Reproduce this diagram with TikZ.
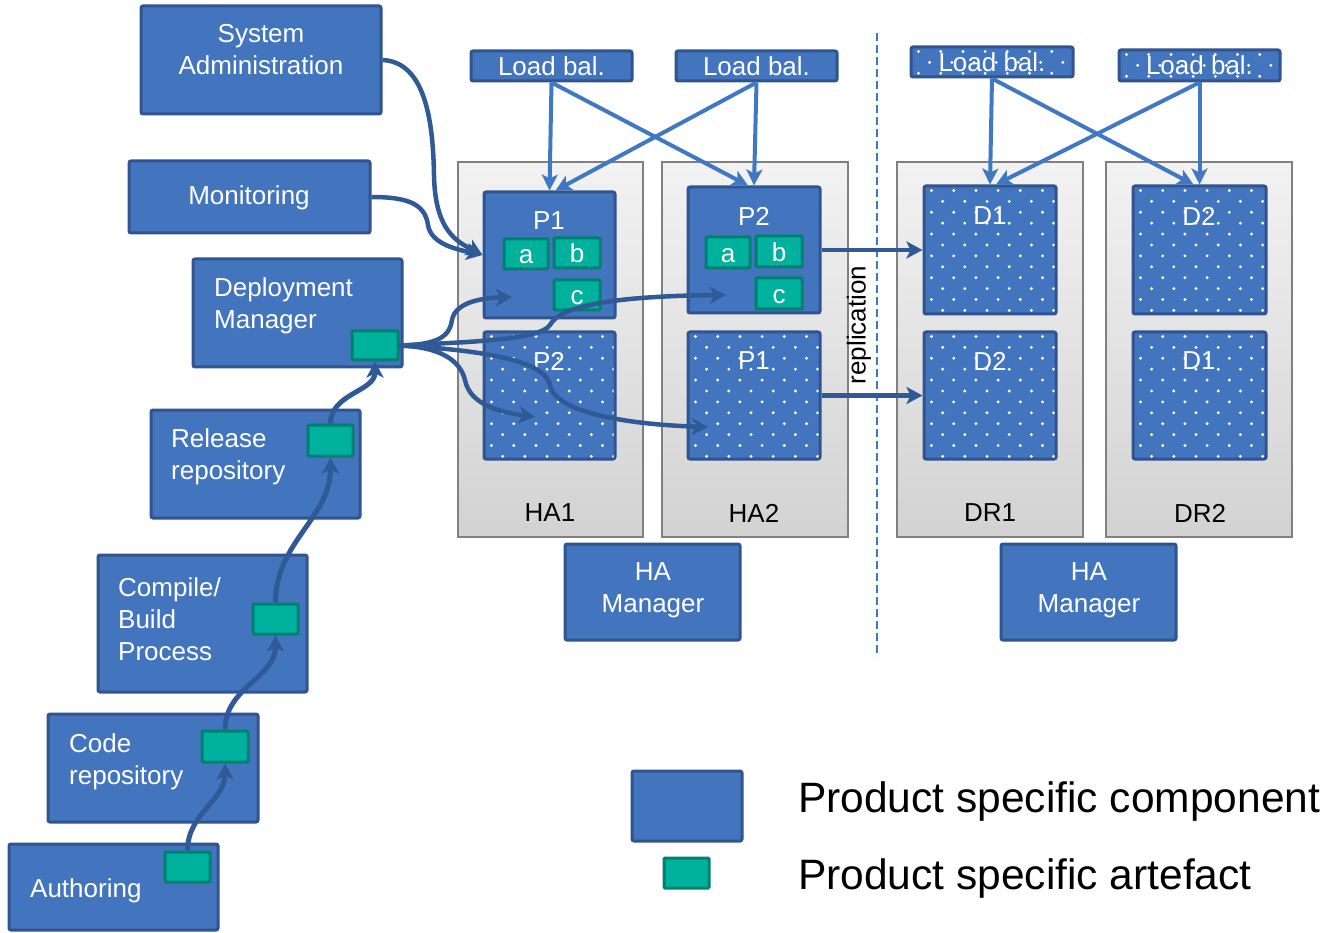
\documentclass[tikz,border=0pt]{standalone}
\usepackage{fontspec}
\setmainfont{Liberation Sans}
\usetikzlibrary{arrows.meta,calc}
\definecolor{cblue}{RGB}{66,117,190}
\definecolor{cbord}{RGB}{47,84,143}
\definecolor{cteal}{RGB}{0,178,158}
\definecolor{ctbord}{RGB}{0,128,112}
\definecolor{carrow}{RGB}{47,90,150}
\definecolor{clb}{RGB}{65,120,195}
\definecolor{chost}{RGB}{128,128,128}
\newcommand\fsz{\fontsize{26}{32}\selectfont}
\newcommand\lgsz{\fontsize{42.5}{50}\selectfont}
\newcommand\mydots[1]{%
  \begin{scope}
    \clip ([shift={(3,3)}]#1.north west) rectangle ([shift={(-3,-3)}]#1.south east);
    \foreach \j in {0,...,12}{\foreach \i in {0,...,6}{
      \pgfmathsetmacro\dx{9+22.2*\i+11.1*mod(\j,2)}
      \pgfmathsetmacro\dy{6+10.9*\j}
      \fill[white] ([shift={(\dx,\dy)}]#1.north west) circle (1.6pt);
    }}
  \end{scope}}
\begin{document}
\begin{tikzpicture}[x=1pt,y=-1pt,
  comp/.style={draw=cbord, fill=cblue, line width=3pt, rounded corners=2pt, inner sep=0pt, text=white, font=\fsz},
  art/.style={draw=ctbord, fill=cteal, line width=3pt, rounded corners=1pt, inner sep=0pt, text=white, font=\fsz, text height=20pt, text depth=0pt},
  host/.style={draw=chost, line width=2pt, top color=gray!10, bottom color=gray!35, inner sep=0pt},
  wt/.style={text=white, font=\fsz, inner sep=0pt, align=center},
  bt/.style={text=black, font=\fsz, inner sep=0pt},
  darr/.style={draw=carrow, line width=4.5pt, -{Stealth[length=16pt,width=17pt,inset=4pt]}},
  lbarr/.style={draw=clb, line width=4pt, -{Stealth[length=16pt,width=16pt,inset=4pt]}},
  chain/.style={draw=carrow, line width=5pt, -{Stealth[length=16pt,width=17pt,inset=4pt]}}
]
\useasboundingbox (0,0) rectangle (1326,933);

% hosts
\node[host, minimum width=185pt, minimum height=375pt] (ha1) at (550.5,349.5) {};
\node[host, minimum width=186pt, minimum height=375pt] (ha2) at (755,349.5) {};
\node[host, minimum width=186pt, minimum height=375pt] (dr1) at (990,349.5) {};
\node[host, minimum width=186pt, minimum height=375pt] (dr2) at (1199,349.5) {};
\node[bt] (ha1t) at (550,513) {HA1};
\node[bt] (ha2t) at (754,513) {HA2};
\node[bt] (dr1t) at (990,513) {DR1};
\node[bt] (dr2t) at (1200,513) {DR2};

% load balancers
\node[comp, minimum width=161pt, minimum height=30pt] (lb1) at (551.5,66) {Load bal.};
\node[comp, minimum width=161pt, minimum height=30pt] (lb2) at (756.5,66) {Load bal.};
\node[comp, minimum width=162pt, minimum height=30pt] (lb3) at (992,62) {Load bal.};
\node[comp, minimum width=161pt, minimum height=31pt] (lb4) at (1199.5,65.5) {Load bal.};
\mydots{lb3}
\mydots{lb4}

% product boxes
\node[comp, minimum width=131pt, minimum height=126pt] (p1a) at (549.5,255) {};
\node[wt] (p1at) at (549,221) {P1};
\node[art, minimum width=44pt, minimum height=30pt] (p1aa) at (526,254) {a};
\node[art, minimum width=46pt, minimum height=30pt] (p1ab) at (577,253) {b};
\node[art, minimum width=46pt, minimum height=30pt] (p1ac) at (577,295) {c};

\node[comp, minimum width=132pt, minimum height=126pt] (p2a) at (754,250) {};
\node[wt] (p2at) at (754,216) {P2};
\node[art, minimum width=44pt, minimum height=31pt] (p2aa) at (728,252.5) {a};
\node[art, minimum width=46pt, minimum height=31pt] (p2ab) at (779,251.5) {b};
\node[art, minimum width=46pt, minimum height=31pt] (p2ac) at (779,293.5) {c};

\node[comp, minimum width=131pt, minimum height=127pt] (p2b) at (549.5,395.5) {};
\node[wt] (p2bt) at (549,361) {P2};
\mydots{p2b}
\node[comp, minimum width=132pt, minimum height=127pt] (p1b) at (754,395.5) {};
\node[wt] (p1bt) at (754,361) {P1};
\mydots{p1b}

\node[comp, minimum width=132pt, minimum height=128pt] (d1a) at (990,250) {};
\node[wt] (d1at) at (990,216) {D1};
\mydots{d1a}
\node[comp, minimum width=132pt, minimum height=127pt] (d2b) at (990,395.5) {};
\node[wt] (d2bt) at (990,361) {D2};
\mydots{d2b}
\node[comp, minimum width=133pt, minimum height=128pt] (d2a) at (1199.5,250) {};
\node[wt] (d2at) at (1199,216) {D2};
\mydots{d2a}
\node[comp, minimum width=133pt, minimum height=127pt] (d1b) at (1199.5,395.5) {};
\node[wt] (d1bt) at (1199,361) {D1};
\mydots{d1b}

% HA managers
\node[comp, minimum width=175pt, minimum height=96pt] (ham1) at (652.5,592) {};
\node[wt] (ham1t) at (653,590) {HA\\Manager};
\node[comp, minimum width=175pt, minimum height=96pt] (ham2) at (1088.5,592) {};
\node[wt] (ham2t) at (1089,590) {HA\\Manager};

% separator
\coordinate (sept) at (877,33);
\coordinate (sepb) at (877,657);
\draw[clb, line width=2.5pt, dash pattern=on 8pt off 4pt] (sept) -- (sepb);
\node[bt, rotate=90] (repl) at (859,325) {replication};

% left column
\node[comp, minimum width=240pt, minimum height=108pt] (sa) at (261,60) {};
\node[wt] (sat) at (261,50) {System\\Administration};
\node[comp, minimum width=241pt, minimum height=72pt] (mon) at (249.5,197) {};
\node[wt] (mont) at (249,198) {Monitoring};
\node[comp, minimum width=209pt, minimum height=108pt] (dm) at (297.5,313) {};
\node[wt, align=left, anchor=west] (dmt) at (214,306) {Deployment\\Manager};
\node[art, minimum width=46pt, minimum height=29pt] (dmart) at (375,345.5) {};
\node[comp, minimum width=209pt, minimum height=108pt] (rr) at (255.5,464) {};
\node[wt, align=left, anchor=west] (rrt) at (171,457) {Release\\repository};
\node[art, minimum width=45pt, minimum height=31pt] (rrart) at (330.5,440.5) {};
\node[comp, minimum width=209pt, minimum height=137pt] (cb) at (202.5,623.5) {};
\node[wt, align=left, anchor=west] (cbt) at (118,619) {Compile/\\Build\\Process};
\node[art, minimum width=45pt, minimum height=30pt] (cbart) at (275.5,619) {};
\node[comp, minimum width=210pt, minimum height=108pt] (cr) at (153,768) {};
\node[wt, align=left, anchor=west] (crt) at (69,762) {Code\\repository};
\node[art, minimum width=46pt, minimum height=31pt] (crart) at (225,746.5) {};
\node[comp, minimum width=209pt, minimum height=86pt] (au) at (113.5,887) {};
\node[wt, anchor=west] (aut) at (30,891) {Authoring};
\node[art, minimum width=45pt, minimum height=30pt] (auart) at (187.5,867) {};

% legend
\node[comp, minimum width=110pt, minimum height=70pt] (leg1) at (687,806) {};
\node[art, minimum width=45pt, minimum height=30pt] (leg2) at (686.5,873) {};
\node[bt, font=\lgsz, anchor=west] (leg1t) at (798,802) {Product specific component};
\node[bt, font=\lgsz, anchor=west] (leg2t) at (798,879) {Product specific artefact};

% load balancer arrows
\draw[lbarr] (lb1.south) -- (p1a.north);
\draw[lbarr] (lb1.south) -- ([xshift=-6pt]p2a.north);
\draw[lbarr] (lb2.south) -- ([xshift=6pt]p1a.north);
\draw[lbarr] (lb2.south) -- (p2a.north);
\draw[lbarr] (lb3.south) -- (d1a.north);
\draw[lbarr] (lb3.south) -- ([xshift=-6pt]d2a.north);
\draw[lbarr] (lb4.south) -- ([xshift=6pt]d1a.north);
\draw[lbarr] (lb4.south) -- (d2a.north);

% replication
\draw[darr] (p2a.east) -- (d1a.west);
\draw[darr] (p1b.east) -- (d2b.west);

% management arrows
\draw[darr] (sa.east) .. controls (425,62) and (433,120) .. (434,175) .. controls (435,232) and (458,242) .. (p1a.west);
\draw[darr] (mon.east) .. controls (410,197) and (425,205) .. (428,225) .. controls (431,245) and (460,250) .. (p1a.west);

% deployment arrows
\coordinate (t1) at (512,297);
\coordinate (t2) at (726,295);
\coordinate (t3) at (535,417);
\coordinate (t4) at (708,427);
\draw[darr] (dmart.east) .. controls (440,345) and (450,335) .. (452,320) .. controls (455,303) and (480,298) .. (t1);
\draw[darr] (dmart.east) .. controls (470,342) and (540,340) .. (550,325) .. controls (560,305) and (620,296) .. (t2);
\draw[darr] (dmart.east) .. controls (440,347) and (460,360) .. (465,380) .. controls (470,405) and (500,412) .. (t3);
\draw[darr] (dmart.east) .. controls (480,350) and (545,360) .. (550,385) .. controls (555,415) and (640,425) .. (t4);

% release chain
\draw[chain] (auart.north) to[out=90,in=-90] (crart.south);
\draw[chain] (crart.north) to[out=90,in=-90] (cbart.south);
\draw[chain] (cbart.north) to[out=90,in=-90] (rrart.south);
\draw[chain] (rrart.north) to[out=90,in=-90] (dmart.south);
\end{tikzpicture}
\end{document}
